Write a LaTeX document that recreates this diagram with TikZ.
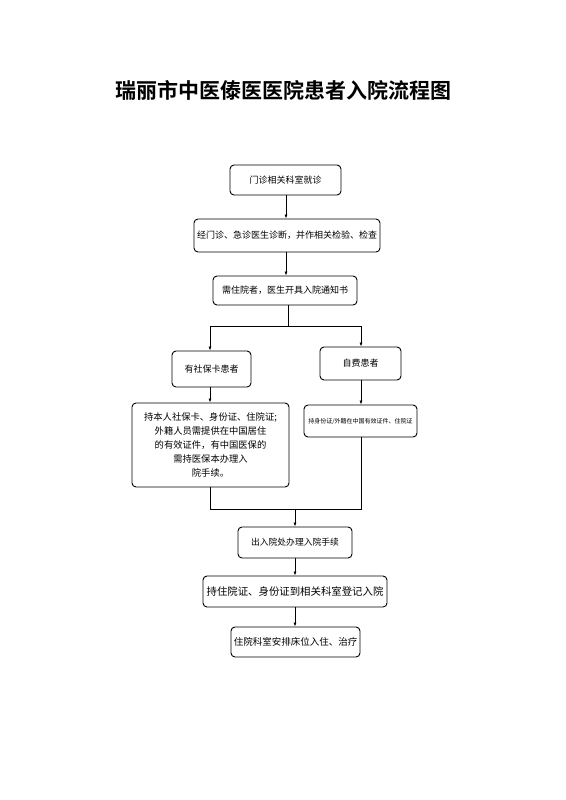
\documentclass[tikz,border=0pt]{standalone}
\usepackage{fontspec}
\setmainfont{Noto Sans CJK SC}
\newfontfamily\titlefont{Noto Sans CJK SC Bold}
\usetikzlibrary{arrows.meta}
\begin{document}
\begin{tikzpicture}[x=1pt,y=-1pt,
  box/.style={draw, line width=0.9pt, rounded corners=4pt, inner sep=0pt, font=\fontsize{9}{14}\selectfont, align=center},
  conn/.style={draw, line width=0.7pt},
  arr/.style={conn, -{Latex[length=4pt,width=3pt]}}]
\useasboundingbox (0,0) rectangle (565,800);
\node[font=\titlefont\fontsize{21}{24}\selectfont] (title) at (283,90) {瑞丽市中医傣医医院患者入院流程图};
\node[box, minimum width=111pt, minimum height=30pt] (b1) at (285.5,180) {门诊相关科室就诊};
\node[box, minimum width=186pt, minimum height=33pt] (b2) at (287,235.5) {经门诊、急诊医生诊断，并作相关检验、检查};
\node[box, minimum width=144pt, minimum height=29pt] (b3) at (285,290.5) {需住院者，医生开具入院通知书};
\node[box, minimum width=79pt, minimum height=36pt] (b4) at (211.5,369) {有社保卡患者};
\node[box, minimum width=81pt, minimum height=33pt] (b5) at (360.5,363.5) {自费患者};
\node[box, minimum width=157pt, minimum height=84pt, font=\fontsize{9.3}{14}\selectfont] (b6) at (210.5,445) {持本人社保卡、身份证、住院证;\\外籍人员需提供在中国居住\\的有效证件，有中国医保的\\需持医保本办理入\\院手续。};
\node[box, minimum width=113pt, minimum height=32pt, font=\fontsize{6}{8}\selectfont] (b7) at (360.5,421) {持身份证/外籍在中国有效证件、住院证};
\node[box, minimum width=114pt, minimum height=31pt, font=\fontsize{8.8}{10}\selectfont] (b8) at (295,542.5) {出入院处办理入院手续};
\node[box, minimum width=184pt, minimum height=31pt, font=\fontsize{10.4}{12}\selectfont] (b9) at (295,591.5) {持住院证、身份证到相关科室登记入院};
\node[box, minimum width=129pt, minimum height=30pt, font=\fontsize{9.5}{12}\selectfont] (b10) at (295.5,642) {住院科室安排床位入住、治疗};
\coordinate (x1) at (286,0);
\coordinate (s1) at (288,326);
\coordinate (s1l) at (210,326);
\coordinate (s1r) at (361,326);
\coordinate (j1) at (210,509);
\coordinate (j2) at (361,509);
\coordinate (jm) at (295,509);
\draw[arr] (b1.south -| x1) -- (b2.north -| x1);
\draw[arr] (b2.south -| x1) -- (b3.north -| x1);
\draw[conn] (b3.south -| s1) -- (s1);
\draw[conn] (s1l) -- (s1r);
\draw[arr] (s1l) -- (s1l |- b4.north);
\draw[arr] (s1r) -- (s1r |- b5.north);
\draw[arr] (b4.south -| j1) -- (b6.north -| j1);
\draw[arr] (b5.south -| j2) -- (b7.north -| j2);
\draw[conn] (b6.south -| j1) -- (j1) -- (j2) -- (b7.south -| j2);
\draw[arr] (jm) -- (b8.north);
\draw[arr] (b8.south) -- (b9.north);
\draw[arr] (b9.south) -- (b10.north -| b9);
\end{tikzpicture}
\end{document}
